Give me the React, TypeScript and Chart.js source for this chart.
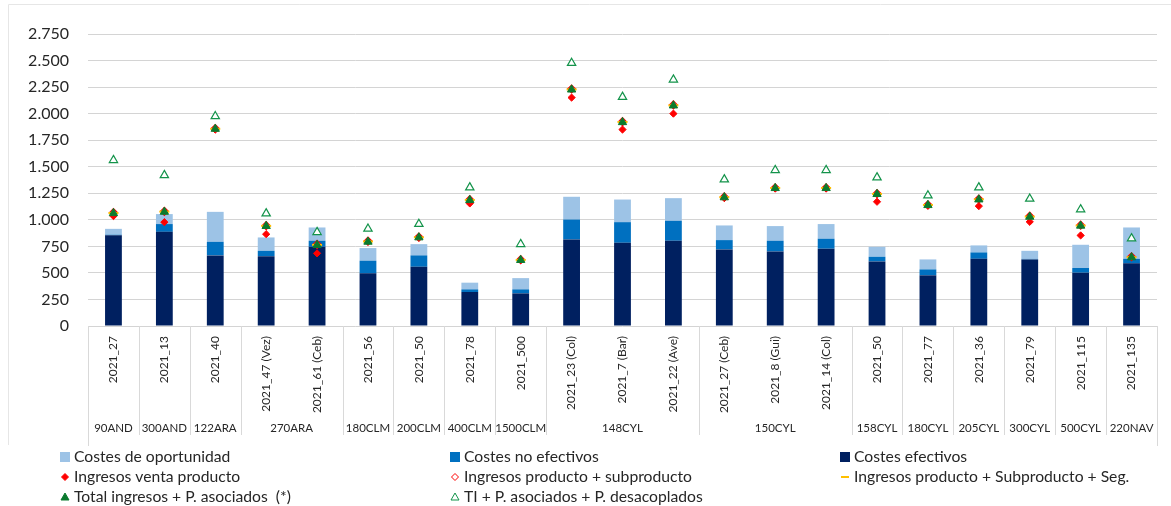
import React, { useEffect, useRef } from 'react';
import { Chart, registerables } from 'chart.js';

Chart.register(...registerables);

const categories = [
  '2021_27', '2021_13', '2021_40', '2021_47 (Vez)', '2021_61 (Ceb)', '2021_56', '2021_50',
  '2021_78', '2021_500', '2021_23 (Col)', '2021_7 (Bar)', '2021_22 (Ave)', '2021_27 (Ceb)',
  '2021_8 (Gui)', '2021_14 (Col)', '2021_50', '2021_77', '2021_36', '2021_79', '2021_115', '2021_135',
];
const groupLabels = [
  '90AND', '300AND', '122ARA', '270ARA', '180CLM', '200CLM', '400CLM', '1500CLM',
  '148CYL', '150CYL', '158CYL', '180CYL', '205CYL', '300CYL', '500CYL', '220NAV',
];
const groupSizes = [1, 1, 1, 2, 1, 1, 1, 1, 3, 3, 1, 1, 1, 1, 1, 1];

const costesEfectivos = [855, 887, 665, 658, 746, 496, 558, 320, 307, 815, 784, 803, 721, 702, 728, 608, 477, 633, 627, 502, 590];
const costesNoEfectivos = [5, 73, 128, 50, 57, 119, 107, 25, 38, 188, 194, 188, 88, 101, 94, 44, 56, 60, 5, 44, 43];
const costesOportunidad = [55, 94, 282, 126, 125, 119, 106, 63, 106, 214, 213, 213, 138, 138, 138, 94, 94, 66, 76, 219, 295];

const ingresosVenta = [1035, 978, 1850, 865, 684, 795, 830, 1154, 621, 2151, 1850, 2000, 1205, 1295, 1295, 1170, 1132, 1129, 981, 853, 650];
const ingresosProdSub = [1068, 1080, 1860, 945, 768, 800, 838, 1190, 625, 2232, 1924, 2082, 1216, 1302, 1302, 1247, 1142, 1196, 1034, 950, 652];
const ingresosProdSubSeg = [1064, 1077, 1857, 943, 764, 796, 835, 1187, 622, 2228, 1921, 2078, 1213, 1300, 1300, 1244, 1140, 1193, 1030, 946, 648];
const totalIngresos = [1062, 1075, 1856, 941, 762, 793, 834, 1185, 621, 2226, 1919, 2076, 1211, 1298, 1298, 1242, 1138, 1191, 1028, 944, 646];
const tiDesacoplados = [1562, 1420, 1975, 1060, 884, 916, 960, 1305, 771, 2477, 2157, 2320, 1380, 1468, 1468, 1399, 1229, 1305, 1198, 1098, 825];

const FONT = 'Lato, "Open Sans", sans-serif';
const TEXT = '#262626';

type LegendSpec = { col: number; row: number; kind: string; fill: string; stroke: string };

const legendLayout: Record<string, LegendSpec> = {
  'Costes de oportunidad': { col: 0, row: 0, kind: 'square', fill: '#9DC3E6', stroke: '#9DC3E6' },
  'Costes no efectivos': { col: 1, row: 0, kind: 'square', fill: '#0070C0', stroke: '#0070C0' },
  'Costes efectivos': { col: 2, row: 0, kind: 'square', fill: '#002060', stroke: '#002060' },
  'Ingresos venta producto': { col: 0, row: 1, kind: 'diamond', fill: '#FF0000', stroke: '#FF0000' },
  'Ingresos producto + subproducto': { col: 1, row: 1, kind: 'diamondHollow', fill: '#FFFFFF', stroke: '#FF0000' },
  'Ingresos producto + Subproducto + Seg.': { col: 2, row: 1, kind: 'dash', fill: '#FFC000', stroke: '#FFC000' },
  'Total ingresos + P. asociados  (*)': { col: 0, row: 2, kind: 'triangle', fill: '#0B7A2E', stroke: '#0B7A2E' },
  'TI + P. asociados + P. desacoplados': { col: 1, row: 2, kind: 'triangleHollow', fill: '#FFFFFF', stroke: '#13934A' },
};
const legendColX = [60, 450, 840];
const legendRowY = [457, 477, 497];

const customPlugin = {
  id: 'customDraw',
  afterDraw(chart: any) {
    const ctx = chart.ctx as CanvasRenderingContext2D;
    const xs = chart.scales.x;
    const area = chart.chartArea;
    ctx.save();

    // outer frame
    ctx.strokeStyle = '#e6e6e6';
    ctx.lineWidth = 1;
    ctx.beginPath();
    ctx.moveTo(8.5, 445);
    ctx.lineTo(8.5, 4.5);
    ctx.lineTo(1171, 4.5);
    ctx.stroke();

    // category labels (rotated)
    ctx.fillStyle = TEXT;
    ctx.font = `12px ${FONT}`;
    categories.forEach((c, i) => {
      const x = xs.getPixelForValue(i);
      ctx.save();
      ctx.translate(x, area.bottom + 10);
      ctx.rotate(-Math.PI / 2);
      ctx.textAlign = 'right';
      ctx.textBaseline = 'middle';
      ctx.fillText(c, 0, 0);
      ctx.restore();
    });

    // group separators and labels
    const step = (area.right - area.left) / categories.length;
    ctx.strokeStyle = '#d9d9d9';
    ctx.lineWidth = 1;
    let start = 0;
    const bounds = [0];
    groupSizes.forEach((s) => {
      start += s;
      bounds.push(start);
    });
    bounds.forEach((b, idx) => {
      const x = Math.round(area.left + step * b) + 0.5;
      const outer = idx === 0 || idx === bounds.length - 1;
      ctx.beginPath();
      ctx.moveTo(x, area.bottom);
      ctx.lineTo(x, outer ? area.bottom + 120 : area.bottom + 109);
      ctx.stroke();
    });
    ctx.font = `11.5px ${FONT}`;
    ctx.textAlign = 'center';
    ctx.textBaseline = 'middle';
    groupLabels.forEach((g, i) => {
      const cx = area.left + step * (bounds[i] + groupSizes[i] / 2);
      ctx.fillText(g, cx, area.bottom + 102);
    });

    // legend
    ctx.font = `15.7px ${FONT}`;
    ctx.textAlign = 'left';
    ctx.textBaseline = 'middle';
    chart.data.datasets.forEach((ds: any) => {
      const spec = legendLayout[ds.label];
      if (!spec) return;
      const mx = legendColX[spec.col];
      const my = legendRowY[spec.row];
      ctx.fillStyle = spec.fill;
      ctx.strokeStyle = spec.stroke;
      ctx.lineWidth = 1;
      const cx = mx + 5;
      if (spec.kind === 'square') {
        ctx.fillRect(mx, my - 5, 10, 10);
      } else if (spec.kind === 'diamond' || spec.kind === 'diamondHollow') {
        ctx.beginPath();
        ctx.moveTo(cx, my - 3.5);
        ctx.lineTo(cx + 3.5, my);
        ctx.lineTo(cx, my + 3.5);
        ctx.lineTo(cx - 3.5, my);
        ctx.closePath();
        ctx.fill();
        ctx.stroke();
      } else if (spec.kind === 'dash') {
        ctx.lineWidth = 2;
        ctx.beginPath();
        ctx.moveTo(cx - 4, my);
        ctx.lineTo(cx + 4, my);
        ctx.stroke();
      } else {
        ctx.beginPath();
        ctx.moveTo(cx, my - 4);
        ctx.lineTo(cx + 4, my + 3);
        ctx.lineTo(cx - 4, my + 3);
        ctx.closePath();
        ctx.fill();
        ctx.stroke();
      }
      ctx.fillStyle = TEXT;
      ctx.fillText(ds.label, mx + 14, my);
    });

    ctx.restore();
  },
};

function pointSet(label: string, data: number[], style: any, order: number, stack: string) {
  return {
    type: 'line' as const,
    label,
    data,
    showLine: false,
    order,
    stack,
    ...style,
  };
}

export default function App() {
  const canvasRef = useRef<HTMLCanvasElement | null>(null);

  useEffect(() => {
    if (!canvasRef.current) return;
    const chart = new Chart(canvasRef.current, {
      type: 'bar',
      data: {
        labels: categories,
        datasets: [
          { type: 'bar', label: 'Costes efectivos', data: costesEfectivos, backgroundColor: '#002060', order: 10, stack: 'costes', barPercentage: 0.33, categoryPercentage: 1 },
          { type: 'bar', label: 'Costes no efectivos', data: costesNoEfectivos, backgroundColor: '#0070C0', order: 10, stack: 'costes', barPercentage: 0.33, categoryPercentage: 1 },
          { type: 'bar', label: 'Costes de oportunidad', data: costesOportunidad, backgroundColor: '#9DC3E6', order: 10, stack: 'costes', barPercentage: 0.33, categoryPercentage: 1 },
          pointSet('Ingresos venta producto', ingresosVenta, { pointStyle: 'rectRot', pointRadius: 3.6, pointBackgroundColor: '#FF0000', pointBorderColor: '#FF0000', pointBorderWidth: 1 }, 5, 'p1'),
          pointSet('Ingresos producto + subproducto', ingresosProdSub, { pointStyle: 'rectRot', pointRadius: 4, pointBackgroundColor: '#FFFFFF', pointBorderColor: '#FF0000', pointBorderWidth: 1.2 }, 4, 'p2'),
          pointSet('Ingresos producto + Subproducto + Seg.', ingresosProdSubSeg, { pointStyle: 'line', pointRadius: 5, pointBorderColor: '#FFC000', pointBackgroundColor: '#FFC000', pointBorderWidth: 2 }, 3, 'p3'),
          pointSet('Total ingresos + P. asociados  (*)', totalIngresos, { pointStyle: 'triangle', pointRadius: 4.8, pointBackgroundColor: '#0B7A2E', pointBorderColor: '#0B7A2E', pointBorderWidth: 1 }, 2, 'p4'),
          pointSet('TI + P. asociados + P. desacoplados', tiDesacoplados, { pointStyle: 'triangle', pointRadius: 4.8, pointBackgroundColor: '#FFFFFF', pointBorderColor: '#13934A', pointBorderWidth: 1.2 }, 1, 'p5'),
        ] as any,
      },
      options: {
        responsive: false,
        animation: false,
        events: [],
        layout: { padding: { left: 0, right: 14, top: 34, bottom: 180 } },
        plugins: { legend: { display: false }, tooltip: { enabled: false } },
        scales: {
          x: { display: false, stacked: true, offset: true },
          y: {
            stacked: true,
            min: 0,
            max: 2750,
            afterFit: (scale: any) => { scale.width = 88; },
            border: { display: false },
            grid: { color: '#d4d4d4', lineWidth: 1, drawTicks: false },
            ticks: {
              stepSize: 250,
              padding: 19,
              color: TEXT,
              font: { family: FONT, size: 16 },
              callback: (v: any) => Number(v).toLocaleString('de-DE'),
            },
          },
        },
      },
      plugins: [customPlugin],
    });
    return () => chart.destroy();
  }, []);

  return (
    <div style={{ position: 'absolute', left: 0, top: 0, width: 1171, height: 506, background: '#fff' }}>
      <canvas ref={canvasRef} width={1171} height={506} style={{ display: 'block' }} />
    </div>
  );
}
